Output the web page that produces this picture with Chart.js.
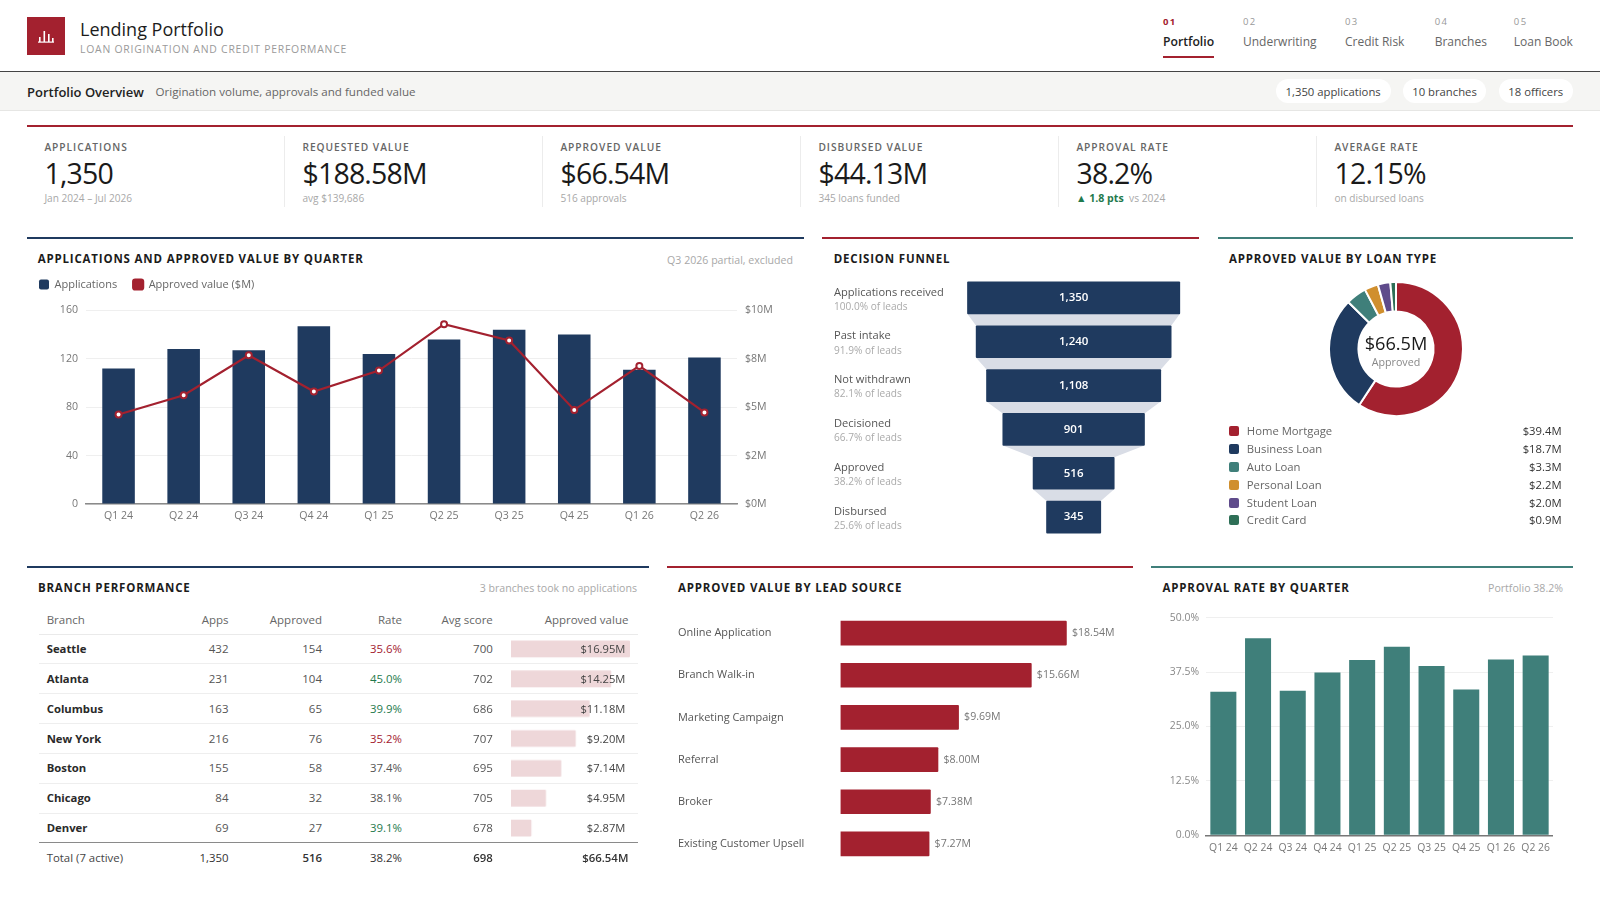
<!DOCTYPE html>
<html><head><meta charset="utf-8"><title>Lending Portfolio</title>
<script src="https://cdn.jsdelivr.net/npm/chart.js@4"></script>
<style>
html,body{margin:0;padding:0;width:1600px;height:900px;background:#fff;overflow:hidden;font-family:"Open Sans",sans-serif;color:#222}
.t{position:absolute;white-space:nowrap;line-height:1;transform:translateY(-50%)}
.r{transform:translate(-100%,-50%)}
.c{transform:translate(-50%,-50%)}
.box{position:absolute}
canvas{position:absolute}
.title{font-size:11.5px;font-weight:700;letter-spacing:.82px;color:#1c1c1c}
.note{font-size:10.6px;color:#a8a8a8}
</style></head><body>
<div id="root"></div>
<script>
const NAVY='#1f3a5f',RED='#a3212f',TEAL='#3f7f7a';
const navNumbers=['01','02','03','04','05'];
const navLabels=['Portfolio','Underwriting','Credit Risk','Branches','Loan Book'];
const pills=['1,350 applications','10 branches','18 officers'];
const kpiLabels=['APPLICATIONS','REQUESTED VALUE','APPROVED VALUE','DISBURSED VALUE','APPROVAL RATE','AVERAGE RATE'];
const kpiValues=['1,350','$188.58M','$66.54M','$44.13M','38.2%','12.15%'];
const kpiSubs=['Jan 2024 – Jul 2026','avg $139,686','516 approvals','345 loans funded','','on disbursed loans'];

const quarters=['Q1 24','Q2 24','Q3 24','Q4 24','Q1 25','Q2 25','Q3 25','Q4 25','Q1 26','Q2 26'];
const applications=[112,128,127,147,124,136,144,140,111,121];
const approvedValue=[4.62,5.62,7.68,5.81,6.89,9.29,8.45,4.86,7.13,4.73];
const rightTickLabels=['$0M','$2M','$5M','$8M','$10M'];

const funnelStages=['Applications received','Past intake','Not withdrawn','Decisioned','Approved','Disbursed'];
const funnelValues=[1350,1240,1108,901,516,345];
const funnelShares=['100.0% of leads','91.9% of leads','82.1% of leads','66.7% of leads','38.2% of leads','25.6% of leads'];

const loanTypes=['Home Mortgage','Business Loan','Auto Loan','Personal Loan','Student Loan','Credit Card'];
const loanValues=[39.4,18.7,3.3,2.2,2.0,0.9];
const loanColors=[RED,NAVY,TEAL,'#d08f2e','#5f4b8b','#2e6f57'];

const branchHeaders=['Branch','Apps','Approved','Rate','Avg score','Approved value'];
const branches=['Seattle','Atlanta','Columbus','New York','Boston','Chicago','Denver'];
const branchApps=[432,231,163,216,155,84,69];
const branchApproved=[154,104,65,76,58,32,27];
const branchRates=[35.6,45.0,39.9,35.2,37.4,38.1,39.1];
const branchScores=[700,702,686,707,695,705,678];
const branchValues=[16.95,14.25,11.18,9.20,7.14,4.95,2.87];
const branchTotals=['Total (7 active)','1,350','516','38.2%','698','$66.54M'];

const leadSources=['Online Application','Branch Walk-in','Marketing Campaign','Referral','Broker','Existing Customer Upsell'];
const leadValues=[18.54,15.66,9.69,8.00,7.38,7.27];
const approvalRates=[33.0,45.25,33.2,37.4,40.3,43.3,38.9,33.5,40.4,41.3];

const root=document.getElementById('root');
function box(x,y,w,h,bg,extra){const d=document.createElement('div');d.className='box';d.style.cssText=`left:${x}px;top:${y}px;width:${w}px;height:${h}px;background:${bg};${extra||''}`;root.appendChild(d);return d;}
function txt(x,y,s,style,cls){const d=document.createElement('div');d.className='t '+(cls||'');d.style.cssText=`left:${x}px;top:${y}px;${style||''}`;d.textContent=s;root.appendChild(d);return d;}
function cv(x,y,w,h){const c=document.createElement('canvas');c.width=w;c.height=h;c.style.cssText=`left:${x}px;top:${y}px;width:${w}px;height:${h}px`;root.appendChild(c);return c;}

/* header */
box(27,17,38,38,RED);
const lg=document.createElement('div');lg.className='box';lg.style.cssText='left:27px;top:17px';
lg.innerHTML='<svg width="38" height="38"><g fill="#fff"><rect x="12" y="20" width="1.6" height="5"/><rect x="16.5" y="14" width="1.6" height="11"/><rect x="21" y="17" width="1.6" height="8"/><rect x="25" y="21" width="1.6" height="4"/><rect x="11" y="24.5" width="16" height="1.2"/></g></svg>';
root.appendChild(lg);
txt(80,28.6,'Lending Portfolio','font-size:18px;font-weight:500;color:#1c1c1c');
txt(80,48.8,'LOAN ORIGINATION AND CREDIT PERFORMANCE','font-size:10.4px;letter-spacing:.78px;color:#9a9a9a');
const navX=[1163,1243,1345,1434.7,1513.8];
navLabels.forEach((l,i)=>{
  txt(navX[i],21.8,navNumbers[i],`font-size:9.5px;letter-spacing:1.4px;font-weight:${i?500:700};color:${i?'#999':RED}`);
  txt(navX[i],41.5,l,`font-size:${i?12:12.2}px;font-weight:${i?400:600};color:${i?'#666':'#222'}`);
});
box(1163,55.5,51,2,RED);
box(0,71,1600,1.4,'#444');
box(0,72.4,1600,37.6,'#f5f5f3','border-bottom:1px solid #e6e6e4');
txt(27,91.5,'Portfolio Overview','font-size:13px;font-weight:600;color:#222');
txt(155.6,91.5,'Origination volume, approvals and funded value','font-size:11.6px;color:#666');
const pillX=[[1275.5,1390.8],[1403,1486],[1498.5,1573]];
pills.forEach((p,i)=>{box(pillX[i][0],79,pillX[i][1]-pillX[i][0],24,'#fff','border-radius:12px');
  txt((pillX[i][0]+pillX[i][1])/2,91.5,p,'font-size:11.3px;font-weight:500;color:#444','c');});

/* KPI strip */
box(27,124.5,1546,2,RED);
kpiLabels.forEach((l,i)=>{
  const x=44.4+i*258;
  if(i) box(26+i*258,136,1,71,'#ececec');
  txt(x,147,l,'font-size:10.2px;font-weight:600;letter-spacing:.98px;color:#666');
  txt(x,172.5,kpiValues[i],'font-size:28.5px;font-weight:500;letter-spacing:-.8px;color:#1a1a1a');
  if(kpiSubs[i]) txt(x,198,kpiSubs[i],'font-size:10.1px;color:#a8a8a8');
});
txt(1076,198,'▲ 1.8 pts','font-size:10.6px;font-weight:700;color:#1f7a4d');
txt(1129,198,'vs 2024','font-size:10.3px;color:#a8a8a8');

/* panel rules and titles */
box(27,237,777,2,NAVY);box(822,237,377.4,2,RED);box(1218,237,355,2,TEAL);
box(27,566,621.6,2,NAVY);box(667,566,466,2,RED);box(1151,566,422,2,TEAL);
txt(37.7,259,'APPLICATIONS AND APPROVED VALUE BY QUARTER','','title');
txt(793,259.7,'Q3 2026 partial, excluded','','note r');
txt(833.7,259,'DECISION FUNNEL','','title');
txt(1229,259,'APPROVED VALUE BY LOAN TYPE','','title');
txt(37.9,588,'BRANCH PERFORMANCE','','title');
txt(637,588.3,'3 branches took no applications','','note r');
txt(678,588,'APPROVED VALUE BY LEAD SOURCE','','title');
txt(1162.4,588,'APPROVAL RATE BY QUARTER','','title');
txt(1563,588.3,'Portfolio 38.2%','','note r');

/* Chart.js defaults */
Chart.defaults.font.family='"Open Sans",sans-serif';
Chart.defaults.animation=false;
Chart.defaults.responsive=false;
Chart.defaults.plugins.tooltip.enabled=false;
Chart.defaults.events=[];
const fixW=w=>s=>{s.width=w;s.paddingTop=0;s.paddingBottom=0;};
const fixH=h=>s=>{s.height=h;s.paddingLeft=0;s.paddingRight=0;};

/* 1: applications + approved value */
new Chart(cv(23,262.7,781,265.3),{
  data:{labels:quarters,datasets:[
    {type:'bar',label:'Applications',data:applications,backgroundColor:NAVY,borderWidth:0,barPercentage:.5,categoryPercentage:1,yAxisID:'y',order:1},
    {type:'line',label:'Approved value ($M)',data:approvedValue,borderColor:RED,backgroundColor:RED,borderWidth:2.2,tension:0,pointRadius:3,pointBorderWidth:2,pointBackgroundColor:'#fff',pointBorderColor:RED,yAxisID:'y1',order:0}
  ]},
  plugins:[{id:'legendGap',beforeLayout(c){if(c.legend&&!c.legend._w){c.legend._w=1;const f=c.legend.fit;c.legend.fit=function(){f.call(this);this.height+=10.4;};}}}],
  options:{
    layout:{padding:0},
    plugins:{legend:{position:'top',align:'start',labels:{boxWidth:10,boxHeight:10,padding:16,color:'#666',font:{size:11},useBorderRadius:true,borderRadius:2,sort:(a,b)=>a.datasetIndex-b.datasetIndex}}},
    scales:{
      x:{afterFit:fixH(24),grid:{display:false,drawTicks:false},border:{color:'#8a8a8a',width:1.4},ticks:{color:'#777',font:{size:10.6},padding:6,autoSkip:false,maxRotation:0}},
      y:{position:'left',min:0,max:160,afterFit:fixW(63),grid:{color:'#efefef',drawTicks:false},border:{display:false},ticks:{stepSize:40,color:'#777',font:{size:10.6},padding:8}},
      y1:{position:'right',min:0,max:10,afterFit:fixW(67),grid:{drawOnChartArea:false,drawTicks:false},border:{display:false},ticks:{stepSize:2.5,color:'#777',font:{size:10.6},padding:8,callback:(v,i)=>rightTickLabels[i]}}
    }
  }
});

/* 2: funnel */
const funnelPlugin={id:'funnel',
  beforeDatasetsDraw(c){
    const m=c.getDatasetMeta(0).data,g=c.ctx;g.save();g.fillStyle='#d9dde6';
    for(let i=0;i<m.length-1;i++){
      const a=m[i].getProps(['x','y','base','height']),b=m[i+1].getProps(['x','y','base','height']);
      g.beginPath();g.moveTo(a.base,a.y+a.height/2);g.lineTo(a.x,a.y+a.height/2);g.lineTo(b.x,b.y-b.height/2);g.lineTo(b.base,b.y-b.height/2);g.closePath();g.fill();
    }
    g.restore();
  },
  afterDatasetsDraw(c){
    const g=c.ctx,s=c.scales.y,x=c.scales.x;g.save();
    funnelValues.forEach((v,i)=>{
      const y=s.getPixelForTick(i);
      g.textBaseline='middle';
      g.textAlign='center';g.fillStyle='#fff';g.font='600 11.5px "Open Sans"';g.fillText(v.toLocaleString('en-US'),x.getPixelForValue(0),y);
      g.textAlign='left';g.fillStyle='#555';g.font='11.1px "Open Sans"';g.fillText(funnelStages[i],0,y-5.5);
      g.fillStyle='#aaa';g.font='10.1px "Open Sans"';g.fillText(funnelShares[i],0,y+9);
    });
    g.restore();
  }};
new Chart(cv(833.7,276,356.3,263.4),{
  type:'bar',
  data:{labels:funnelStages,datasets:[{data:funnelValues.map(v=>[-v/2,v/2]),backgroundColor:NAVY,borderWidth:0,barThickness:32,borderSkipped:false,borderRadius:1}]},
  plugins:[funnelPlugin],
  options:{indexAxis:'y',layout:{padding:{left:129.55,right:6.25}},plugins:{legend:{display:false}},
    scales:{x:{display:false,min:-700,max:700},y:{display:false}}}
});

/* 3: donut */
new Chart(cv(1320,272.7,152,152),{
  type:'doughnut',
  data:{labels:loanTypes,datasets:[{data:loanValues,backgroundColor:loanColors,borderColor:'#fff',borderWidth:2}]},
  options:{cutout:'56%',layout:{padding:8},plugins:{legend:{display:false}}}
});
txt(1396,343.3,'$66.5M','font-size:18.2px;font-weight:500;color:#1a1a1a','c');
txt(1396,362,'Approved','font-size:10.7px;color:#888','c');
const loanY=[431.3,449.3,467,485,502.7,520.3];
loanTypes.forEach((l,i)=>{
  box(1229,loanY[i]-5,10,10,loanColors[i],'border-radius:2px');
  txt(1246.8,loanY[i],l,'font-size:11.3px;color:#666');
  txt(1561.6,loanY[i],'$'+loanValues[i].toFixed(1)+'M','font-size:11.3px;color:#333','r');
});

/* branch table */
const colX=[46.7,228.5,322,402,492.8,628.4];
const H={font:'font-size:11.5px;color:#666'};
branchHeaders.forEach((h,i)=>txt(colX[i],620,h,H.font,i?'r':''));
box(38.7,633.5,599.3,1,'#eaeaea');
const rowTop=634.1,rowH=29.83;
new Chart(cv(511,rowTop,118.5,rowH*7),{
  type:'bar',
  data:{labels:branches,datasets:[{data:branchValues,backgroundColor:'rgba(163,33,47,.18)',borderWidth:0,barThickness:16,borderRadius:1}]},
  options:{indexAxis:'y',layout:{padding:0},plugins:{legend:{display:false}},scales:{x:{display:false,min:0,max:17},y:{display:false}}}
});
branches.forEach((b,i)=>{
  const y=rowTop+rowH*i+rowH/2, r=branchRates[i];
  const rc=r<36?RED:(r>=39?'#1f7a4d':'#555');
  if(i<6) box(38.7,rowTop+rowH*(i+1)-.5,599.3,1,'#eeeeee');
  txt(colX[0],y,b,'font-size:11.3px;font-weight:700;color:#2a2a2a');
  txt(colX[1],y,branchApps[i],'font-size:11.5px;color:#555','r');
  txt(colX[2],y,branchApproved[i],'font-size:11.5px;color:#555','r');
  txt(colX[3],y,r.toFixed(1)+'%',`font-size:11.4px;color:${rc}`,'r');
  txt(colX[4],y,branchScores[i],'font-size:11.5px;color:#555','r');
  txt(625.4,y,'$'+branchValues[i].toFixed(2)+'M','font-size:11.2px;color:#444','r');
});
box(38.7,841.5,599.3,1.2,'#8a8a8a');
branchTotals.forEach((t,i)=>{
  txt(colX[i],858,t,`font-size:11.4px;font-weight:${(i==2||i>=4)?600:500};color:${i?'#333':'#444'}`,i?'r':'');
});

/* 4: lead source */
const valueLabels={id:'valueLabels',afterDatasetsDraw(c){
  const g=c.ctx;g.save();g.fillStyle='#777';g.font='10.6px "Open Sans"';g.textBaseline='middle';g.textAlign='left';
  c.getDatasetMeta(0).data.forEach((b,i)=>g.fillText('$'+leadValues[i].toFixed(2)+'M',b.x+5.5,b.y));g.restore();}};
new Chart(cv(678,611.9,444,253.6),{
  type:'bar',
  data:{labels:leadSources,datasets:[{data:leadValues,backgroundColor:RED,borderWidth:0,barThickness:24,borderRadius:1}]},
  plugins:[valueLabels],
  options:{indexAxis:'y',layout:{padding:0},plugins:{legend:{display:false}},
    scales:{x:{display:false,min:0,max:23.1},
      y:{afterFit:fixW(162.5),grid:{display:false},border:{display:false},ticks:{crossAlign:'far',color:'#555',font:{size:10.95},autoSkip:false}}}}
});

/* 5: approval rate */
new Chart(cv(1162,608,391,252),{
  type:'bar',
  data:{labels:quarters,datasets:[{data:approvalRates,backgroundColor:TEAL,borderWidth:0,barPercentage:.75,categoryPercentage:1}]},
  options:{layout:{padding:{top:9.7}},plugins:{legend:{display:false}},
    scales:{
      x:{afterFit:fixH(24.7),grid:{display:false,drawTicks:false},border:{color:'#777',width:1.4},ticks:{color:'#777',font:{size:10.4},padding:7,autoSkip:false,maxRotation:0}},
      y:{min:0,max:50,afterFit:fixW(44),grid:{color:'#efefef',drawTicks:false},border:{display:false},ticks:{stepSize:12.5,color:'#888',font:{size:10.4},padding:7,callback:v=>v.toFixed(1)+'%'}}
    }}
});
</script>
</body></html>
